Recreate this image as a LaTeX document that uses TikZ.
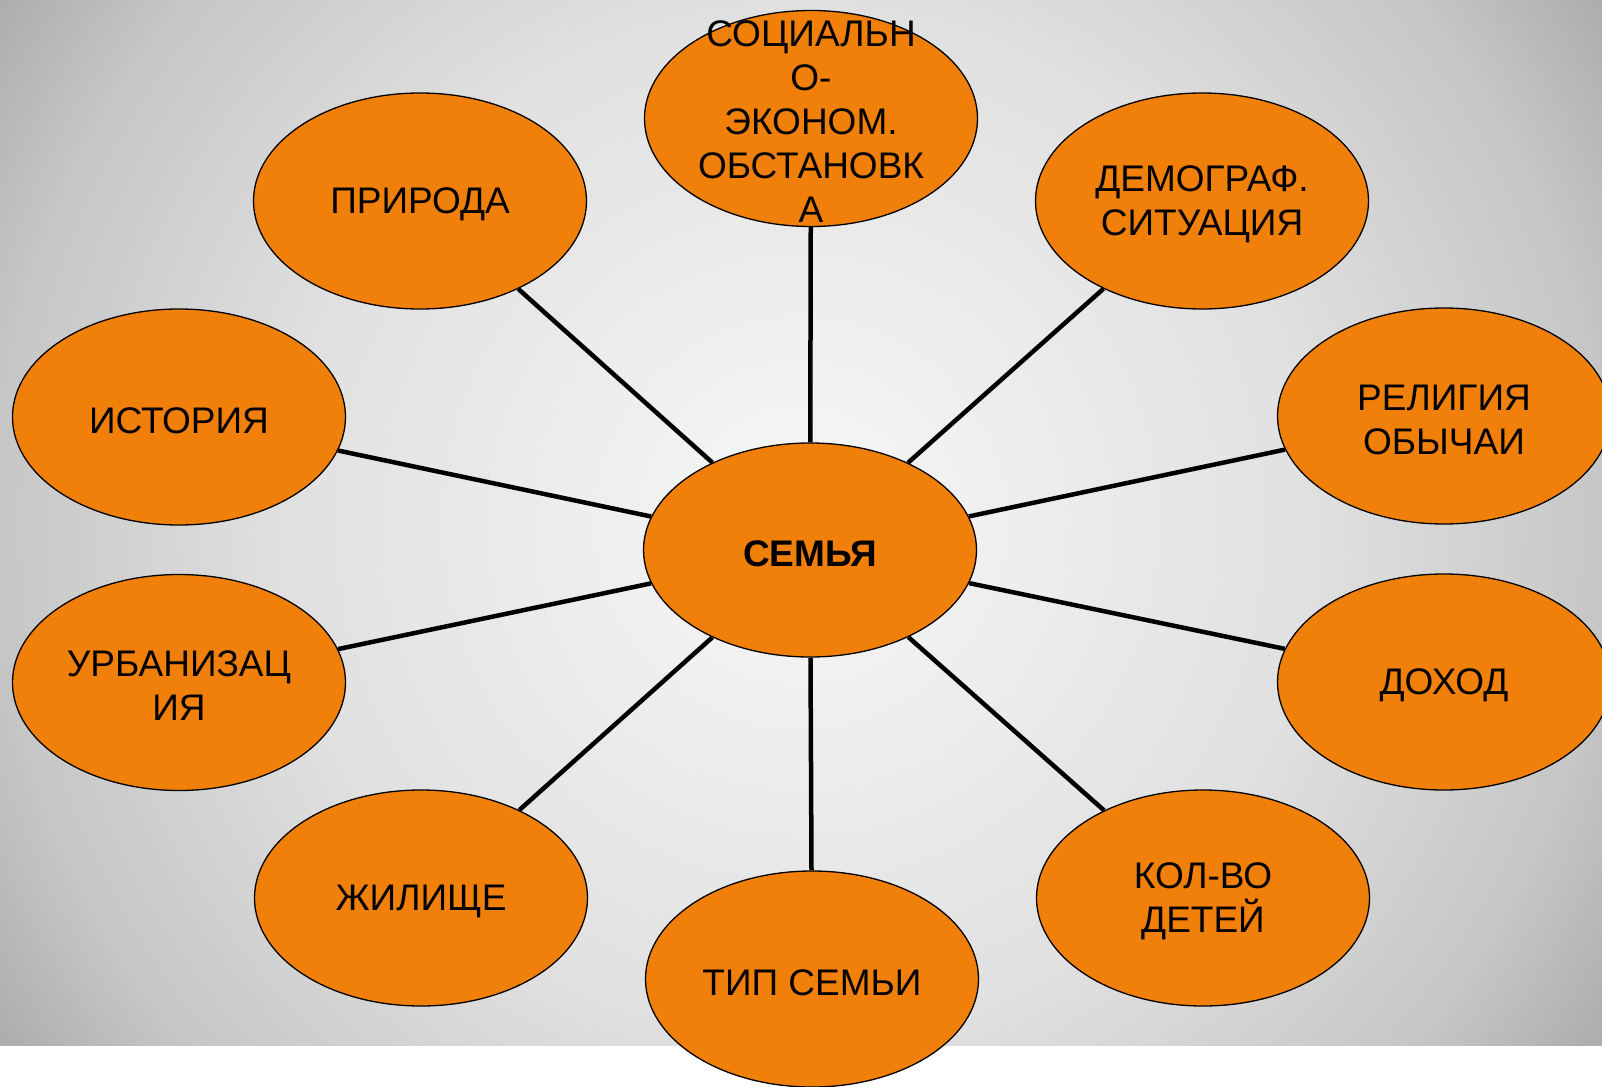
\documentclass[tikz,border=0pt]{standalone}
\usepackage{fontspec}
\setmainfont{Liberation Sans}
\usetikzlibrary{shapes.geometric}
\definecolor{orng}{RGB}{240,128,10}
\definecolor{bgA}{RGB}{248,248,248}
\definecolor{bgB}{RGB}{224,224,224}
\definecolor{bgC}{RGB}{198,198,198}
\definecolor{bgD}{RGB}{172,172,172}
\pgfdeclareradialshading{bgshade}{\pgfpoint{0bp}{0bp}}{color(0bp)=(bgA); color(13.5bp)=(bgB); color(21bp)=(bgC); color(25bp)=(bgD); color(50bp)=(bgD)}
\tikzset{
  bub/.style={ellipse, draw=black, line width=1.3pt, fill=orng, minimum width=333pt, minimum height=216pt, inner sep=0pt},
  lbl/.style={align=center, font=\fontsize{37}{44}\selectfont, text=black, yshift=-3.5pt},
  conn/.style={draw=black, line width=4.5pt}
}
\begin{document}
\begin{tikzpicture}[x=1pt,y=-1pt]
\useasboundingbox (0,0) rectangle (1602,1086);
\fill[white] (0,0) rectangle (1602,1086);
\begin{scope}
  \clip (0,0) rectangle (1602,1045);
  \shade[shading=bgshade] (800,522) circle[radius=960pt];
\end{scope}
\node[bub, minimum height=214pt, label={[lbl]center:{\bfseries СЕМЬЯ}}] (c) at (810,550) {};
\node[bub, label={[lbl]center:СОЦИАЛЬН\\О-\\ЭКОНОМ.\\ОБСТАНОВК\\А}] (soc) at (811,118.5) {};
\node[bub, label={[lbl]center:ПРИРОДА}] (nat) at (420,201) {};
\node[bub, label={[lbl]center:ДЕМОГРАФ.\\СИТУАЦИЯ}] (dem) at (1202,201) {};
\node[bub, label={[lbl]center:ИСТОРИЯ}] (his) at (179,417) {};
\node[bub, label={[lbl]center:РЕЛИГИЯ\\ОБЫЧАИ}] (rel) at (1444,416) {};
\node[bub, label={[lbl]center:УРБАНИЗАЦ\\ИЯ}] (urb) at (179,682.5) {};
\node[bub, label={[lbl]center:ДОХОД}] (inc) at (1444,682) {};
\node[bub, label={[lbl]center:ЖИЛИЩЕ}] (hou) at (421,898) {};
\node[bub, label={[lbl]center:КОЛ-ВО\\ДЕТЕЙ}] (kid) at (1203,898) {};
\node[bub, label={[lbl]center:ТИП СЕМЬИ}] (typ) at (812,979) {};
\foreach \n in {soc,nat,dem,his,rel,urb,inc,hou,kid,typ}
  \draw[conn] (c) -- (\n);
\end{tikzpicture}
\end{document}
